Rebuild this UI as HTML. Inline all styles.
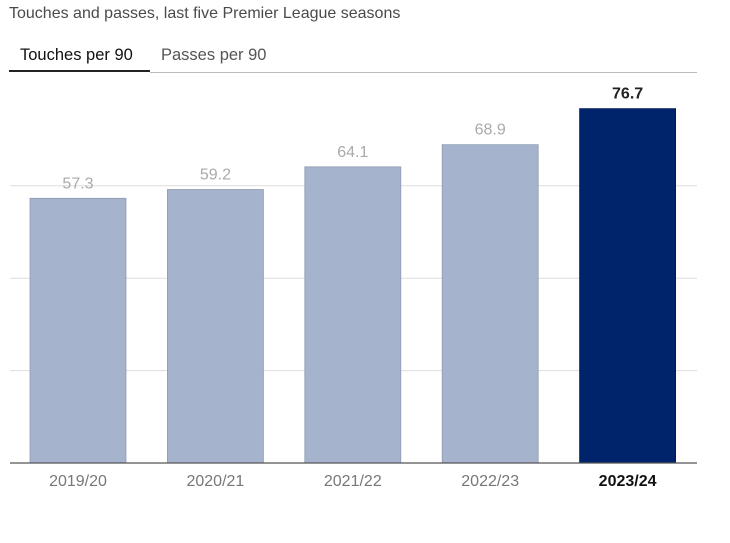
<!DOCTYPE html>
<html><head><meta charset="utf-8"><style>
body{margin:0;width:730px;height:543px;background:#fff;font-family:"Liberation Sans",sans-serif;overflow:hidden;position:relative}
.t{position:absolute;white-space:nowrap}
</style></head><body>
<div class="t" style="left:9px;top:5px;font-size:16px;color:#4a4a4a">Touches and passes, last five Premier League seasons</div>
<div class="t" style="left:20px;top:46px;font-size:16.5px;color:#111">Touches per 90</div>
<div class="t" style="left:161px;top:46px;font-size:16.5px;color:#555">Passes per 90</div>
<div style="position:absolute;left:9px;top:70px;width:141px;height:2px;background:#222"></div>
<div style="position:absolute;left:150px;top:72px;width:547px;height:1px;background:#bbb"></div>
<svg id="c" width="730" height="543" style="position:absolute;left:0;top:0"></svg>
<script>
const categories=["2019/20","2020/21","2021/22","2022/23","2023/24"];
const values=[57.3,59.2,64.1,68.9,76.7];
const gridTicks=[20,40,60];
const svg=document.getElementById('c');
const NS='http://www.w3.org/2000/svg';
const x0=10,plotW=687,baseY=463,k=4.62;
const y=v=>baseY-v*k;
const band=plotW/categories.length;
const xb=i=>x0+i*band+20;
const bw=96;
function mk(t,a){const e=document.createElementNS(NS,t);for(const n in a)e.setAttribute(n,a[n]);svg.appendChild(e);return e;}
gridTicks.forEach(g=>{
 const l=mk('line',{x1:x0,x2:x0+plotW,y1:y(g),y2:y(g),stroke:'#ddd','stroke-width':1});
 
 
});
values.forEach((v,i)=>{
 const last=i===values.length-1;
 const r=mk('rect',{x:xb(i),y:y(v),width:bw,height:baseY-y(v),fill:last?'#00246b':'#a6b3cd',stroke:last?'#001a55':'#8f9bb3','stroke-width':0.8});
 
 
 const t=mk('text',{x:xb(i)+bw/2,y:y(v)-10,'text-anchor':'middle','font-size':16,fill:last?'#222':'#aaa','font-weight':last?'bold':'normal','font-family':'Liberation Sans, sans-serif'});
 t.textContent=v.toFixed(1);
 
 
 const c=mk('text',{x:xb(i)+bw/2,y:baseY+23,'text-anchor':'middle','font-size':16,fill:last?'#111':'#777','font-weight':last?'bold':'normal','font-family':'Liberation Sans, sans-serif'});
 c.textContent=categories[i];
 
 
});
const ax=mk('line',{x1:x0,x2:x0+plotW,y1:baseY,y2:baseY,stroke:'#555','stroke-width':1.2});


</script>
</body></html>
